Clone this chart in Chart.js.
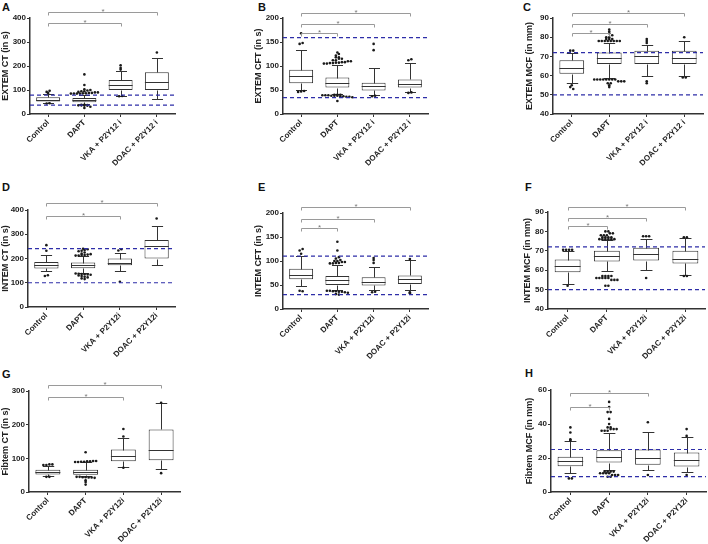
<!DOCTYPE html>
<html>
<head>
<meta charset="utf-8">
<script src="https://cdn.jsdelivr.net/npm/chart.js@4.4.0/dist/chart.umd.min.js"></script>
<style>
  body { margin: 0; background: #fff; width: 708px; height: 544px; position: relative; overflow: hidden;
         font-family: "Liberation Sans", Arial, sans-serif; }
  canvas { position: absolute; }
  .letter { position: absolute; font-weight: bold; font-size: 11px; line-height: 11px; color: #111; }
</style>
</head>
<body>
<script>
// category labels
const labelsTop = ['Control', 'DAPT', 'VKA + P2Y12 i', 'DOAC + P2Y12 i'];
const labelsLow = ['Control', 'DAPT', 'VKA + P2Y12i', 'DOAC + P2Y12i'];

// boxes: [lower whisker, Q1, median, Q3, upper whisker] per group
// outliers per group, reference range lines, significance brackets [to group, level]

// A - EXTEM CT
const extemCtTicks = [0, 100, 200, 300, 400];
const extemCtBox = [[47, 52, 60, 70, 82], [40, 49, 57, 67, 80], [77, 100, 121, 142, 179], [62, 100, 132, 174, 234]];
const extemCtOut = [[88, 92, 97, 44, 45],
  [85, 85, 85, 85, 86, 86, 88, 88, 90, 90, 92, 95, 95, 98, 100, 103, 121, 165, 38, 38, 37, 36, 36, 35, 35, 30, 25],
  [185, 192, 203, 74, 75], [256]];
const extemCtRef = [79, 37];
const extemCtSig = [[2, 378], [3, 424]];

// B - EXTEM CFT
const extemCftTicks = [0, 50, 100, 150, 200];
const extemCftBox = [[51, 64, 79, 92, 133], [42, 55, 65, 76, 103], [39, 49, 59, 65, 95], [45, 55, 63, 72, 106]];
const extemCftOut = [[146, 148, 168, 46, 47, 48],
  [105, 105, 106, 106, 107, 107, 108, 108, 110, 110, 112, 112, 115, 115, 118, 118, 122, 125, 128,
   40, 40, 40, 39, 39, 39, 38, 38, 38, 37, 37, 36, 36, 35, 27],
  [133, 146, 37, 38], [112, 114, 44, 45]];
const extemCftRef = [159, 34];
const extemCftSig = [[1, 169], [2, 188], [3, 210]];

// C - EXTEM MCF
const extemMcfTicks = [40, 50, 60, 70, 80, 90];
const extemMcfBox = [[56, 61, 64, 68, 72], [59, 66, 69, 72, 77], [60, 66, 70, 73, 76], [60, 66, 69, 73, 78]];
const extemMcfOut = [[73, 73, 55, 54, 53],
  [78, 78, 78, 78, 78, 78, 78, 78, 79, 79, 79, 80, 80, 81, 82, 83, 84,
   58, 58, 58, 58, 58, 58, 58, 58, 57, 57, 57, 56, 56, 55, 54],
  [77, 78, 79, 56, 57], [80, 59, 59]];
const extemMcfRef = [72, 50];
const extemMcfSig = [[1, 82], [2, 87], [3, 92.6]];

// D - INTEM CT
const intemCtTicks = [0, 100, 200, 300, 400];
const intemCtBox = [[148, 159, 172, 186, 214], [140, 160, 172, 183, 210], [149, 172, 183, 200, 221], [172, 200, 252, 276, 334]];
const intemCtOut = [[232, 255, 128, 131],
  [212, 212, 214, 214, 216, 218, 220, 225, 230, 232, 235, 238, 240,
   138, 137, 136, 135, 134, 133, 130, 128, 125, 122, 118, 115],
  [233, 238, 104], [365]];
const intemCtRef = [241, 100];
const intemCtSig = [[2, 377], [3, 430]];

// E - INTEM CFT
const intemCftTicks = [0, 50, 100, 150, 200];
const intemCftBox = [[48, 62, 71, 84, 111], [39, 50, 60, 69, 92], [39, 49, 57, 66, 88], [39, 52, 62, 70, 103]];
const intemCftOut = [[115, 122, 125, 38, 37],
  [95, 95, 96, 96, 98, 98, 100, 100, 102, 105, 108, 122, 140, 38, 38, 37, 37, 36, 36, 35, 34, 31, 30],
  [96, 102, 106, 35, 36], [104, 33, 35]];
const intemCftRef = [110, 30];
const intemCftSig = [[1, 169], [2, 188], [3, 212]];

// F - INTEM MCF
const intemMcfTicks = [40, 50, 60, 70, 80, 90];
const intemMcfBox = [[53, 59, 62, 65.5, 70], [59.5, 64.5, 67.3, 70, 75.5], [60, 65, 68.3, 71.6, 76], [57.5, 63.5, 66, 70, 76.5]];
const intemMcfOut = [[70.5, 70.5, 70.5, 70.5, 52],
  [76, 76, 76, 76, 76, 76, 77, 77, 77, 77, 78, 78, 78, 79, 79, 80, 80,
   57, 57, 57, 57, 56, 56, 56, 56, 56, 55, 55, 55, 52, 52],
  [77.5, 77.5, 77.5, 56], [77, 77, 57, 57]];
const intemMcfRef = [72, 50];
const intemMcfSig = [[1, 82.6], [2, 87], [3, 92.6]];

// G - Fibtem CT
const fibCtTicks = [0, 100, 200, 300];
const fibCtBox = [[47, 52, 59, 66, 76], [47, 51, 59, 66, 88], [74, 91, 106, 126, 161], [68, 94, 124, 186, 265]];
const fibCtOut = [[80, 80, 82, 82, 45, 45],
  [89, 89, 90, 90, 91, 91, 92, 92, 118, 45, 45, 44, 44, 43, 43, 42, 35, 30, 22],
  [165, 187, 72], [265, 56]];
const fibCtRef = [];
const fibCtSig = [[2, 282], [3, 317]];

// H - Fibtem MCF
const fibMcfTicks = [0, 20, 40, 60];
const fibMcfBox = [[11, 15.2, 18.3, 20.7, 30], [12.8, 17.3, 20.5, 24.6, 35], [13, 16, 20, 25, 35.5], [12, 15, 19, 23.2, 32.5]];
const fibMcfOut = [[30.5, 31, 35, 38, 8, 8],
  [36, 36, 36, 37, 37, 37, 38, 38, 40, 43, 47, 47, 50, 53, 12, 12, 12, 12, 11, 11, 11, 11, 10, 10, 10, 9, 9],
  [41, 10], [33, 37, 10]];
const fibMcfRef = [25, 9];
const fibMcfSig = [[1, 50], [2, 58]];

const FONT = '"Liberation Sans", Arial, sans-serif';

const panels = [
  { letter: 'A', pos: [2, 2], title: 'EXTEM CT (in s)', labels: labelsTop, ticks: extemCtTicks, box: extemCtBox, out: extemCtOut, ref: extemCtRef, sig: extemCtSig,
    canvas: [0, 0, 180, 180], area: [30, 18, 175, 114] },
  { letter: 'B', pos: [258, 2], title: 'EXTEM CFT (in s)', labels: labelsTop, ticks: extemCftTicks, box: extemCftBox, out: extemCftOut, ref: extemCftRef, sig: extemCftSig,
    canvas: [253, 0, 180, 180], area: [283, 18, 428, 114] },
  { letter: 'C', pos: [523, 2], title: 'EXTEM MCF (in mm)', labels: labelsTop, ticks: extemMcfTicks, box: extemMcfBox, out: extemMcfOut, ref: extemMcfRef, sig: extemMcfSig,
    canvas: [524, 0, 184, 180], area: [553, 18, 703, 114] },
  { letter: 'D', pos: [2, 182], title: 'INTEM CT (in s)', labels: labelsLow, ticks: intemCtTicks, box: intemCtBox, out: intemCtOut, ref: intemCtRef, sig: intemCtSig,
    canvas: [0, 180, 180, 180], area: [28, 210, 175, 307] },
  { letter: 'E', pos: [258, 182], title: 'INTEM CFT (in s)', labels: labelsLow, ticks: intemCftTicks, box: intemCftBox, out: intemCftOut, ref: intemCftRef, sig: intemCftSig,
    canvas: [253, 180, 180, 180], area: [283, 213, 428, 309] },
  { letter: 'F', pos: [525, 182], title: 'INTEM MCF (in mm)', labels: labelsLow, ticks: intemMcfTicks, box: intemMcfBox, out: intemMcfOut, ref: intemMcfRef, sig: intemMcfSig,
    canvas: [522, 180, 186, 180], area: [548, 212, 705, 309] },
  { letter: 'G', pos: [2, 369], title: 'Fibtem CT (in s)', labels: labelsLow, ticks: fibCtTicks, box: fibCtBox, out: fibCtOut, ref: fibCtRef, sig: fibCtSig,
    canvas: [0, 360, 185, 184], area: [29, 391, 180, 492] },
  { letter: 'H', pos: [525, 368], title: 'Fibtem MCF (in mm)', labels: labelsLow, ticks: fibMcfTicks, box: fibMcfBox, out: fibMcfOut, ref: fibMcfRef, sig: fibMcfSig,
    canvas: [524, 360, 184, 184], area: [551, 390, 706, 492] }
];

// whiskers, medians, outlier dots, reference lines and brackets
const boxParts = {
  id: 'boxParts',
  afterDatasetsDraw(chart) {
    const p = chart.options.plugins.boxParts;
    const ctx = chart.ctx, ys = chart.scales.y, xs = chart.scales.x;
    const meta = chart.getDatasetMeta(0);
    const py = v => Math.round(ys.getPixelForValue(v)) + 0.5;
    ctx.save();
    ctx.strokeStyle = '#333';
    ctx.lineWidth = 1;
    meta.data.forEach((bar, i) => {
      const [lo, q1, med, q3, hi] = p.box[i];
      const half = bar.width / 2, cap = bar.width * 0.23;
      const x = Math.round(bar.x) + 0.5;
      ctx.beginPath();
      ctx.moveTo(bar.x - half, py(med)); ctx.lineTo(bar.x + half, py(med));
      ctx.moveTo(x, py(q3)); ctx.lineTo(x, py(hi));
      ctx.moveTo(x - cap, py(hi)); ctx.lineTo(x + cap, py(hi));
      ctx.moveTo(x, py(q1)); ctx.lineTo(x, py(lo));
      ctx.moveTo(x - cap, py(lo)); ctx.lineTo(x + cap, py(lo));
      ctx.stroke();
    });

    // outliers, spread sideways when they share a row
    ctx.fillStyle = '#1a1a1a';
    meta.data.forEach((bar, i) => {
      const rows = {};
      p.out[i].forEach(v => {
        const y = ys.getPixelForValue(v);
        const k = Math.round(y / 2.6);
        (rows[k] = rows[k] || []).push(y);
      });
      Object.values(rows).forEach(r => r.forEach((y, j) => {
        const dx = (j - (r.length - 1) / 2) * 3;
        ctx.beginPath();
        ctx.arc(bar.x + dx, y, 1.3, 0, Math.PI * 2);
        ctx.fill();
      }));
    });

    // reference range
    const area = chart.chartArea;
    ctx.strokeStyle = '#2e2ea8';
    ctx.lineWidth = 1.2;
    ctx.setLineDash([4, 3]);
    p.ref.forEach(v => {
      const y = ys.getPixelForValue(v);
      ctx.beginPath();
      ctx.moveTo(area.left, y);
      ctx.lineTo(area.right, y);
      ctx.stroke();
    });
    ctx.setLineDash([]);

    // significance brackets
    ctx.strokeStyle = '#9a9a9a';
    ctx.fillStyle = '#777';
    ctx.lineWidth = 1;
    ctx.font = '8px ' + FONT;
    ctx.textAlign = 'center';
    p.sig.forEach(([to, v]) => {
      const x0 = Math.round(xs.getPixelForValue(0)) + 0.5;
      const x1 = Math.round(xs.getPixelForValue(to)) + 0.5;
      const y = py(v);
      ctx.beginPath();
      ctx.moveTo(x0, y + 3); ctx.lineTo(x0, y); ctx.lineTo(x1, y); ctx.lineTo(x1, y + 3);
      ctx.stroke();
      ctx.fillText('*', (x0 + x1) / 2, y + 1);
    });
    ctx.restore();
  }
};

panels.forEach(p => {
  const [cx, cy, cw, ch] = p.canvas;
  const [L, T, R, B] = p.area;

  const letter = document.createElement('div');
  letter.className = 'letter';
  letter.textContent = p.letter;
  letter.style.left = p.pos[0] + 'px';
  letter.style.top = p.pos[1] + 'px';
  document.body.appendChild(letter);

  const canvas = document.createElement('canvas');
  canvas.width = cw; canvas.height = ch;
  canvas.style.left = cx + 'px'; canvas.style.top = cy + 'px';
  document.body.appendChild(canvas);

  const tickFont = { family: FONT, size: 8, weight: 'bold' };
  new Chart(canvas, {
    type: 'bar',
    data: {
      labels: p.labels,
      datasets: [{
        data: p.box.map(b => [b[1], b[3]]),
        backgroundColor: '#fff',
        borderColor: '#333',
        borderWidth: 1,
        borderSkipped: false,
        barPercentage: 0.66,
        categoryPercentage: 1
      }]
    },
    options: {
      responsive: false,
      animation: false,
      devicePixelRatio: 1,
      layout: { padding: { left: 0, top: T - cy, right: cx + cw - R, bottom: 0 } },
      plugins: {
        legend: { display: false },
        tooltip: { enabled: false },
        boxParts: p
      },
      scales: {
        x: {
          offset: true,
          grid: { offset: false, drawOnChartArea: false, tickLength: 3, color: '#333', lineWidth: 1 },
          border: { color: '#333', width: 1.5 },
          ticks: { minRotation: 45, maxRotation: 45, autoSkip: false, font: tickFont, color: '#222', padding: 1 },
          afterFit: s => { s.height = cy + ch - B; }
        },
        y: {
          min: p.ticks[0],
          max: p.ticks[p.ticks.length - 1],
          grid: { drawOnChartArea: false, tickLength: 3, color: '#333', lineWidth: 1 },
          border: { color: '#333', width: 1.5 },
          ticks: { stepSize: p.ticks[1] - p.ticks[0], font: tickFont, color: '#222', padding: 1 },
          title: { display: true, text: p.title, font: { family: FONT, size: 9, weight: 'bold' }, color: '#222', padding: 0 },
          afterFit: s => { s.width = L - cx; }
        }
      }
    },
    plugins: [boxParts]
  });
});
</script>
</body>
</html>
